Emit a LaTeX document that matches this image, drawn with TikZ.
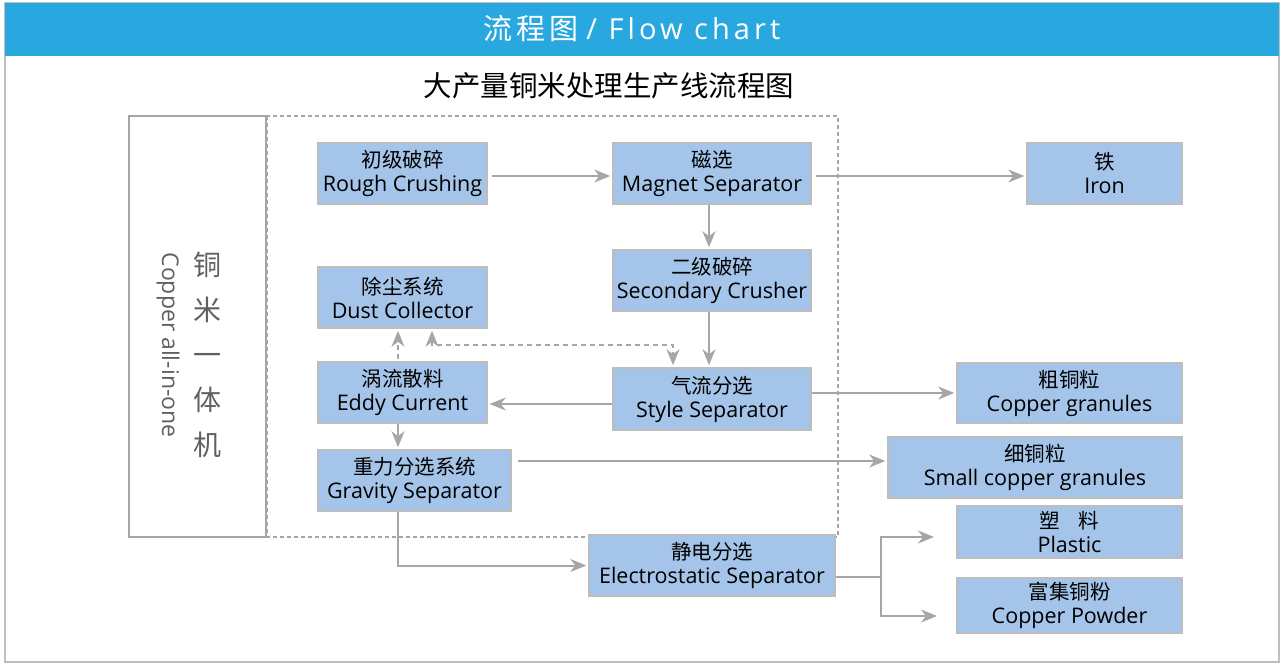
\documentclass[tikz,border=0pt]{standalone}
\usepackage{fontspec}
\setmainfont{Open Sans}
\newfontfamily\cjk{Noto Sans CJK SC}
\newfontfamily\hdrcjk[LetterSpace=14]{Noto Sans CJK SC}
\newfontfamily\hdrlat[LetterSpace=14]{Open Sans}
\newcommand{\zh}[1]{{\cjk\fontsize{20.5}{24}\selectfont #1}}
\usetikzlibrary{arrows.meta,calc}
\definecolor{boxfill}{HTML}{A4C5E9}
\definecolor{boxline}{HTML}{BDBDBD}
\definecolor{lgray}{HTML}{A6A6A6}
\definecolor{hdrblue}{HTML}{29A8E0}
\definecolor{frame}{HTML}{BEBEBE}
\definecolor{sidetext}{HTML}{606060}
\begin{document}
\begin{tikzpicture}[x=1pt,y=-1pt,
  box/.style={draw=boxline, fill=boxfill, line width=1.5pt, inner sep=0pt, align=center,
    font=\fontsize{21.5}{24}\selectfont, text=black},
  arr/.style={draw=lgray, line width=2pt, -{Stealth[length=16pt,width=13pt,inset=5pt]}, shorten <=4pt, shorten >=2pt},
  darr/.style={draw=lgray, line width=1.8pt, dash pattern=on 5pt off 4pt, shorten <=2pt, shorten >=2pt}]
\useasboundingbox (0,0) rectangle (1287,669);
% frame and header
\draw[frame, line width=2pt] (5,3) rectangle (1279,662);
\fill[hdrblue] (5,3) rectangle (1279,56);
\node[text=white, font=\fontsize{29}{32}\selectfont] (hdr) at (632,28) {{\hdrcjk 流程图} {\hdrlat / Flow chart}};
\node[text=black, font=\cjk\fontsize{28.5}{30}\selectfont] (title) at (609,86) {大产量铜米处理生产线流程图};
% left box and dashed enclosure
\draw[lgray, line width=1.8pt] (129,116) rectangle (266,537);
\draw[lgray, line width=1.8pt, dash pattern=on 4pt off 3pt] (267,116) rectangle (838,537);
\node[text=sidetext, align=center, font=\cjk\fontsize{28}{45}\selectfont] (sidecn) at (207,355) {铜\\米\\一\\体\\机};
\node[text=sidetext, rotate=-90, font=\fontsize{23}{26}\selectfont] (sideen) at (168,345) {Copper all-in-one};
% boxes
\node[box, minimum width=169pt, minimum height=61pt] (rough) at (402.5,173.5) {\zh{初级破碎}\\Rough Crushing};
\node[box, minimum width=198pt, minimum height=61pt] (magnet) at (712,173.5) {\zh{磁选}\\Magnet Separator};
\node[box, minimum width=155pt, minimum height=61pt] (iron) at (1104.5,173.5) {\zh{铁}\\Iron};
\node[box, minimum width=198pt, minimum height=61pt] (second) at (712,280.5) {\zh{二级破碎}\\Secondary Crusher};
\node[box, minimum width=169pt, minimum height=61pt] (dust) at (402.5,297.5) {\zh{除尘系统}\\Dust Collector};
\node[box, minimum width=198pt, minimum height=62pt] (style) at (712,399) {\zh{气流分选}\\Style Separator};
\node[box, minimum width=169pt, minimum height=61pt] (eddy) at (402.5,392.5) {\zh{涡流散料}\\Eddy Current};
\node[box, minimum width=193pt, minimum height=61pt] (gravity) at (414.5,480.5) {\zh{重力分选系统}\\Gravity Separator};
\node[box, minimum width=225pt, minimum height=60pt] (cg) at (1069.5,393) {\zh{粗铜粒}\\Copper granules};
\node[box, minimum width=294pt, minimum height=61pt] (scg) at (1035,467.5) {\zh{细铜粒}\\Small copper granules};
\node[box, minimum width=225pt, minimum height=52pt] (plastic) at (1069.5,532) {\zh{塑\hspace{0.9em}料}\\Plastic};
\node[box, minimum width=225pt, minimum height=55pt] (powder) at (1069.5,605.5) {\zh{富集铜粉}\\Copper Powder};
\node[box, minimum width=246pt, minimum height=61pt] (electro) at (712,565.5) {\zh{静电分选}\\Electrostatic Separator};
% helper coordinates
\coordinate (mx) at (709,0);
\coordinate (gx) at (398,0);
\coordinate (dx) at (432,345);
\coordinate (sx) at (673,345);
\coordinate (sp) at (881,577);
\coordinate (pl) at (936,537);
\coordinate (pw) at (939,616);
% connectors
\draw[arr] ([yshift=-2.5pt]rough.east) -- ([yshift=-2.5pt]magnet.west);
\draw[arr] ([yshift=-2.5pt]magnet.east) -- ([yshift=-2.5pt]iron.west);
\draw[arr, shorten <=0pt] (magnet.south -| mx) -- (second.north -| mx);
\draw[arr, shorten <=0pt] (second.south -| mx) -- (style.north -| mx);
\draw[arr, shorten <=0pt] ([yshift=-5pt]style.west) -- ([yshift=-5pt]style.west -| eddy.east);
\draw[arr, shorten <=0pt] (style.east |- cg.west) -- (cg.west);
\draw[arr, shorten <=0pt] (eddy.south -| gx) -- (gravity.north -| gx);
\draw[darr, -{Stealth[length=16pt,width=13pt,inset=5pt]}] (eddy.north -| gx) -- (dust.south -| gx);
\draw[darr, {Stealth[length=16pt,width=13pt,inset=5pt]}-{Stealth[length=16pt,width=13pt,inset=5pt]}] (dust.south -| dx) -- (dx) -- (sx) -- (style.north -| sx);
\draw[arr, shorten <=6pt] ([yshift=19.5pt]gravity.east) -- ([yshift=19.5pt]gravity.east -| scg.west);
\draw[arr, shorten <=0pt] (gravity.south -| gx) |- (electro.west);
\draw[arr, shorten <=0pt] (electro.east |- sp) -- (sp) |- (pl);
\draw[arr, shorten <=0pt] (sp) |- (pw);
\end{tikzpicture}
\end{document}
